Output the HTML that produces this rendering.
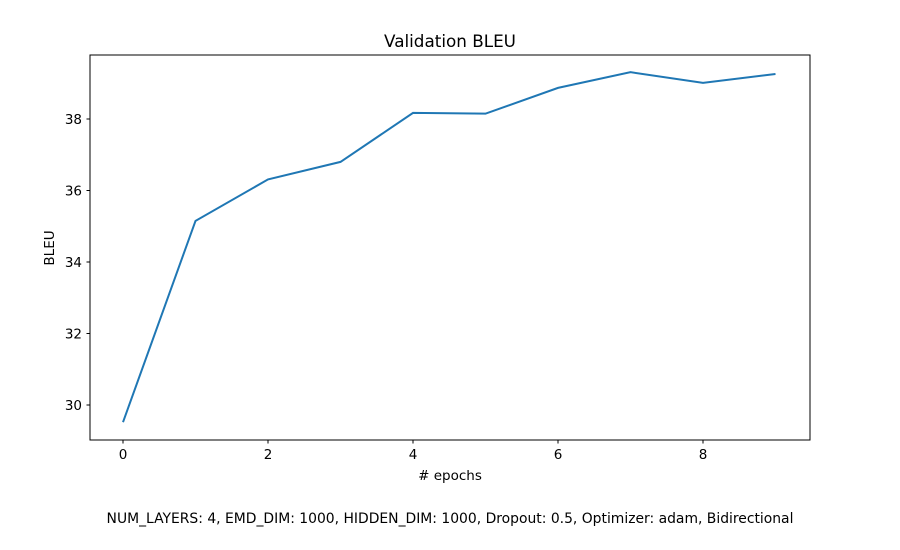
<!DOCTYPE html>
<html><head><meta charset="utf-8"><style>
html,body{margin:0;padding:0;background:#fff;}
svg{display:block;font-family:"DejaVu Sans","Liberation Sans",sans-serif;}
</style></head><body>
<svg id="chart" width="900" height="550" viewBox="0 0 900 550">
<rect x="0" y="0" width="900" height="550" fill="#fff"/>
<text x="450" y="47" text-anchor="middle" font-size="16.8">Validation BLEU</text>
<g id="xticks"></g>
<g id="yticks"></g>
<path id="line" fill="none" stroke="#1f77b4" stroke-width="2"/>
<rect x="90" y="55" width="720" height="385" fill="none" stroke="#000" stroke-width="1"/>
<text x="450" y="480" text-anchor="middle" font-size="13.5"># epochs</text>
<text x="0" y="0" transform="translate(54,248) rotate(-90)" text-anchor="middle" font-size="13.5">BLEU</text>
<text x="450" y="523" text-anchor="middle" font-size="13.9">NUM_LAYERS: 4, EMD_DIM: 1000, HIDDEN_DIM: 1000, Dropout: 0.5, Optimizer: adam, Bidirectional</text>
</svg>
<script>
const epochs = [0,1,2,3,4,5,6,7,8,9];
const bleu = [29.52,35.15,36.31,36.80,38.17,38.15,38.87,39.31,39.01,39.26];
const xTickLabels = [0,2,4,6,8];
const yTickLabels = [30,32,34,36,38];
const NS="http://www.w3.org/2000/svg";
function xs(v){return 123+v*72.5;}
function ys(v){return 405-(v-30)*35.75;}
const line=document.getElementById('line');
line.setAttribute('d',epochs.map((e,i)=>(i?'L':'M')+xs(e)+','+ys(bleu[i])).join(' '));
const xg=document.getElementById('xticks');
xTickLabels.forEach(t=>{
  const l=document.createElementNS(NS,'line');
  
  
  l.setAttribute('x1',xs(t));l.setAttribute('x2',xs(t));l.setAttribute('y1',440);l.setAttribute('y2',443.5);l.setAttribute('stroke','#000');
  xg.appendChild(l);
  const tx=document.createElementNS(NS,'text');
  
  
  tx.setAttribute('x',xs(t));tx.setAttribute('y',459);tx.setAttribute('text-anchor','middle');tx.setAttribute('font-size','13.5');
  tx.textContent=t;xg.appendChild(tx);
});
const yg=document.getElementById('yticks');
yTickLabels.forEach(t=>{
  const l=document.createElementNS(NS,'line');
  
  
  l.setAttribute('x1',86.5);l.setAttribute('x2',90);l.setAttribute('y1',ys(t));l.setAttribute('y2',ys(t));l.setAttribute('stroke','#000');
  yg.appendChild(l);
  const tx=document.createElementNS(NS,'text');
  
  
  tx.setAttribute('x',82);tx.setAttribute('y',ys(t)+5);tx.setAttribute('text-anchor','end');tx.setAttribute('font-size','13.5');
  tx.textContent=t;yg.appendChild(tx);
});
</script>
</body></html>
